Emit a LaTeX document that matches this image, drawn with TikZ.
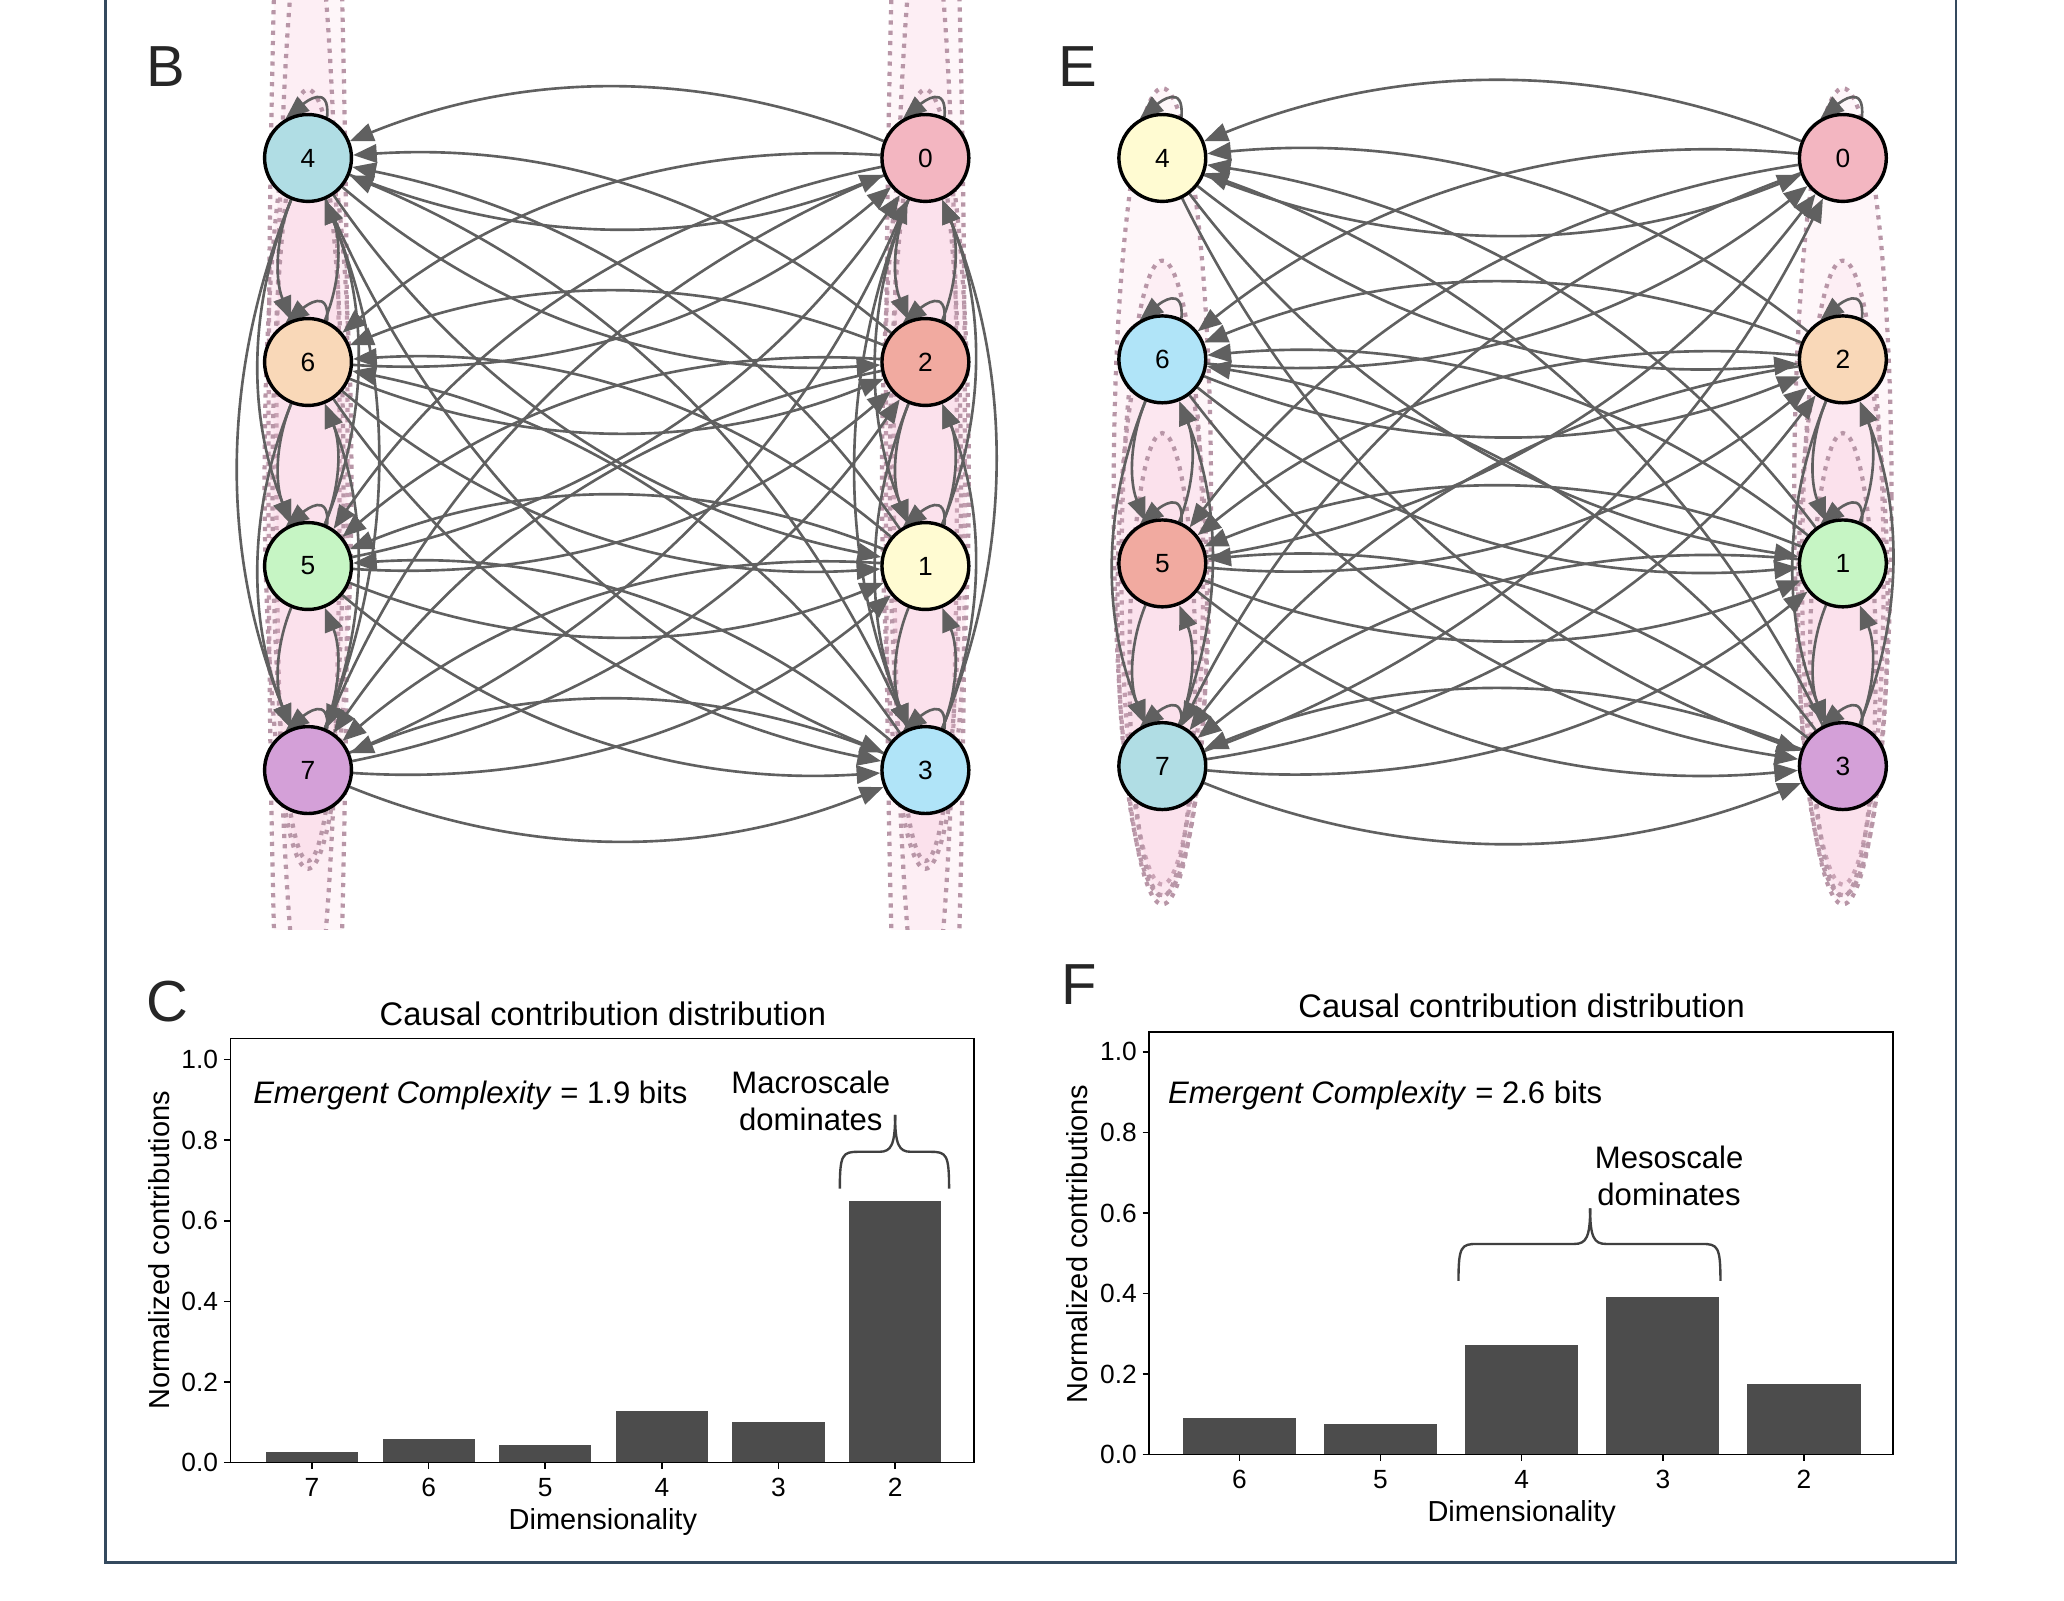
\documentclass[tikz,border=0pt]{standalone}
\usepackage{fontspec}
\setmainfont{Liberation Sans}
\usetikzlibrary{arrows.meta}
\definecolor{edgec}{RGB}{96,96,96}
\definecolor{cpow}{RGB}{176,221,228}
\definecolor{cpeach}{RGB}{249,216,184}
\definecolor{cgreen}{RGB}{198,245,196}
\definecolor{cpurple}{RGB}{212,160,216}
\definecolor{cpink}{RGB}{243,182,193}
\definecolor{csalmon}{RGB}{241,170,160}
\definecolor{cyellow}{RGB}{255,251,210}
\definecolor{csky}{RGB}{176,228,248}
\definecolor{pinkf}{RGB}{247,196,218}
\definecolor{dotc}{RGB}{184,150,167}
\definecolor{framec}{RGB}{52,73,94}
\definecolor{barc}{RGB}{76,76,76}
\definecolor{bracec}{RGB}{64,64,64}
\pgfdeclarelayer{ell}
\pgfdeclarelayer{edg}
\pgfsetlayers{ell,edg,main}
\begin{document}
\begin{tikzpicture}[x=0.5pt,y=0.5pt,
  gnode/.style={circle,draw=black,line width=1.3pt,minimum size=33pt,inner sep=0pt,font=\fontsize{10}{12}\selectfont},
  gedge/.style={draw=edgec,line width=1pt,-{Triangle[length=9pt,width=7pt]}},
  ellfill/.style={fill=pinkf,fill opacity=0.16},
  elldot/.style={draw=dotc,line width=1.6pt,dash pattern=on 1.6pt off 2.3pt},
  panellet/.style={font=\fontsize{22}{24}\selectfont,text=black!85,anchor=base west,inner sep=0pt},
  ttl/.style={font=\fontsize{12.4}{14}\selectfont,anchor=base,inner sep=0pt},
  annot/.style={font=\fontsize{11.8}{14}\selectfont,inner sep=0pt},
  axlab/.style={font=\fontsize{11}{13}\selectfont,inner sep=0pt},
  ticklab/.style={font=\fontsize{10}{12}\selectfont,inner sep=0pt},
  axisline/.style={draw=black,line width=0.6pt},
  barbox/.style={fill=barc},
  bracepath/.style={draw=bracec,line width=0.9pt}
]
\useasboundingbox (0,0) rectangle (1568,-1216);

% frame
\draw[framec,line width=1pt] (80,10) -- (80,-1187) -- (1486,-1187) -- (1486,10);

% panel letters
\node[panellet] (lB) at (111,-66) {B};
\node[panellet] (lE) at (804,-66) {E};
\node[panellet] (lC) at (111,-776) {C};
\node[panellet] (lF) at (806,-763) {F};

% ---------- graph B nodes ----------
\node[gnode,fill=cpow] (b4) at (234,-120) {4};
\node[gnode,fill=cpeach] (b6) at (234,-275) {6};
\node[gnode,fill=cgreen] (b5) at (234,-430) {5};
\node[gnode,fill=cpurple] (b7) at (234,-585) {7};
\node[gnode,fill=cpink] (b0) at (703,-120) {0};
\node[gnode,fill=csalmon] (b2) at (703,-275) {2};
\node[gnode,fill=cyellow] (b1) at (703,-430) {1};
\node[gnode,fill=csky] (b3) at (703,-585) {3};
% ---------- graph E nodes ----------
\node[gnode,fill=cyellow] (e4) at (883,-120) {4};
\node[gnode,fill=csky] (e6) at (883,-273) {6};
\node[gnode,fill=csalmon] (e5) at (883,-428) {5};
\node[gnode,fill=cpow] (e7) at (883,-582) {7};
\node[gnode,fill=cpink] (e0) at (1400,-120) {0};
\node[gnode,fill=cpeach] (e2) at (1400,-273) {2};
\node[gnode,fill=cgreen] (e1) at (1400,-428) {1};
\node[gnode,fill=cpurple] (e3) at (1400,-582) {3};

% ---------- ellipses ----------
\begin{pgfonlayer}{ell}
\foreach \cx in {234,703}{
  \begin{scope}
    \clip (\cx-70,0) rectangle (\cx+70,-706);
    \foreach \cy/\rx/\ry in {352/30/700,352/24/430,364/33/296,372/27/282}{
      \fill[ellfill] (\cx,-\cy) ellipse [x radius=\rx,y radius=\ry];
      \draw[elldot] (\cx,-\cy) ellipse [x radius=\rx,y radius=\ry];
    }
  \end{scope}
}
\foreach \cx in {883,1400}{
  \foreach \cy/\rx/\ry in {377/37/310,435/31/237,460/34/220,505/25/176}{
    \fill[ellfill] (\cx,-\cy) ellipse [x radius=\rx,y radius=\ry];
    \draw[elldot] (\cx,-\cy) ellipse [x radius=\rx,y radius=\ry];
  }
}
\end{pgfonlayer}

% ---------- edges ----------
\begin{pgfonlayer}{edg}
\foreach \u in {4,6,5,7,0,2,1,3}{
  \draw[gedge] (b\u.65) .. controls +(85:26) and +(40:20) .. (b\u.120);
  \foreach \v in {4,6,5,7,0,2,1,3}{
    \ifnum\u=\v\relax\else
      \draw[gedge] (b\u) to[bend right=22,looseness=0.92] (b\v);
    \fi
  }
}
\foreach \u/\gu in {4/1,6/2,5/2,7/2,0/3,2/4,1/4,3/4}{
  \draw[gedge] (e\u.65) .. controls +(85:26) and +(40:20) .. (e\u.120);
  \foreach \v/\gv in {4/1,6/2,5/2,7/2,0/3,2/4,1/4,3/4}{
    \pgfmathtruncatemacro\gsum{\gu+\gv}
    \ifnum\u=\v\relax\else
      \ifnum\gsum=3\relax\else
        \ifnum\gsum=7\relax\else
          \draw[gedge] (e\u) to[bend right=22,looseness=0.92] (e\v);
        \fi
      \fi
    \fi
  }
}
\end{pgfonlayer}

% ---------- chart C ----------
\node[ttl] (tC) at (458,-779) {Causal contribution distribution};
\foreach \i/\v/\lab in {0/0.025/7,1/0.057/6,2/0.044/5,3/0.128/4,4/0.101/3,5/0.65/2}{
  \pgfmathsetmacro\xc{237+88.6*\i}
  \fill[barbox] (\xc-35,-1111) rectangle (\xc+35,{-1111+306*\v});
  \draw[axisline] (\xc,-1111) -- (\xc,-1116);
  \node[ticklab,anchor=base] (cx\i) at (\xc,-1137) {\lab};
}
\foreach \t [count=\k] in {0.0,0.2,0.4,0.6,0.8,1.0}{
  \draw[axisline] (170,{-1111+306*\t}) -- (175,{-1111+306*\t});
  \node[ticklab,anchor=base east] (cy\k) at (166,{-1111+306*\t-7}) {\t};
}
\draw[axisline] (175,-789) rectangle (740,-1111);
\node[annot,anchor=base west] (ecC) at (192,-838) {\textit{Emergent Complexity} = 1.9 bits};
\node[annot,anchor=base] (mC1) at (616,-831) {Macroscale};
\node[annot,anchor=base] (mC2) at (616,-859) {dominates};
\draw[bracepath] (638,-903) .. controls (638,-877) and (640,-875) .. (652,-875) -- (668,-875) .. controls (677,-875) and (680,-870) .. (680,-847);
\draw[bracepath] (721,-903) .. controls (721,-877) and (719,-875) .. (707,-875) -- (692,-875) .. controls (683,-875) and (680,-870) .. (680,-847);
\node[axlab,rotate=90] (ylC) at (121,-950) {Normalized contributions};
\node[axlab,anchor=base] (xlC) at (458,-1162) {Dimensionality};

% ---------- chart F ----------
\node[ttl] (tF) at (1156,-773) {Causal contribution distribution};
\foreach \i/\v/\lab in {0/0.092/6,1/0.076/5,2/0.272/4,3/0.39/3,4/0.175/2}{
  \pgfmathsetmacro\xc{941.5+107.25*\i}
  \fill[barbox] (\xc-43,-1105) rectangle (\xc+43,{-1105+306*\v});
  \draw[axisline] (\xc,-1105) -- (\xc,-1110);
  \node[ticklab,anchor=base] (fx\i) at (\xc,-1131) {\lab};
}
\foreach \t [count=\k] in {0.0,0.2,0.4,0.6,0.8,1.0}{
  \draw[axisline] (868,{-1105+306*\t}) -- (873,{-1105+306*\t});
  \node[ticklab,anchor=base east] (fy\k) at (864,{-1105+306*\t-7}) {\t};
}
\draw[axisline] (873,-784) rectangle (1438,-1105);
\node[annot,anchor=base west] (ecF) at (887,-838) {\textit{Emergent Complexity} = 2.6 bits};
\node[annot,anchor=base] (mF1) at (1268,-888) {Mesoscale};
\node[annot,anchor=base] (mF2) at (1268,-916) {dominates};
\draw[bracepath] (1108,-973) .. controls (1108,-947) and (1110,-945) .. (1122,-945) -- (1196,-945) .. controls (1205,-945) and (1208,-940) .. (1208,-918);
\draw[bracepath] (1307,-973) .. controls (1307,-947) and (1305,-945) .. (1293,-945) -- (1220,-945) .. controls (1211,-945) and (1208,-940) .. (1208,-918);
\node[axlab,rotate=90] (ylF) at (818,-945) {Normalized contributions};
\node[axlab,anchor=base] (xlF) at (1156,-1156) {Dimensionality};
\end{tikzpicture}
\end{document}
